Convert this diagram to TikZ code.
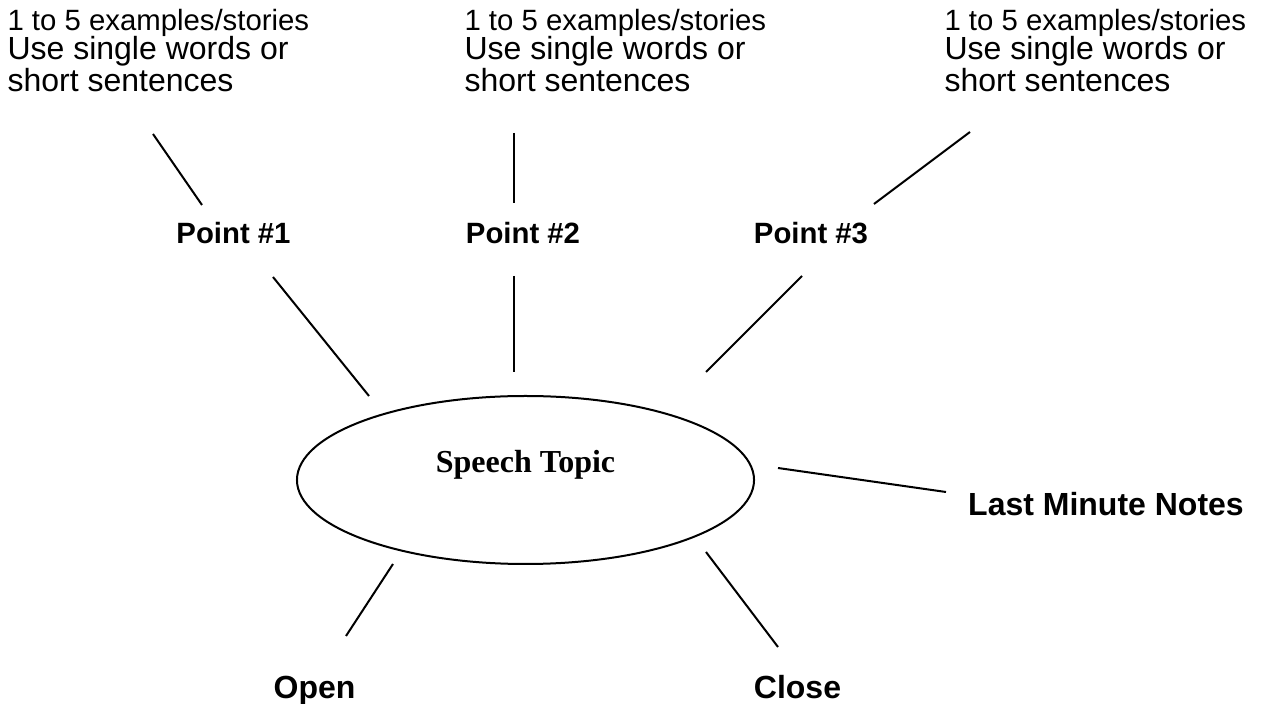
\documentclass[tikz,border=0pt]{standalone}
\usepackage{fontspec}
\setmainfont{Liberation Sans}
\newfontfamily\topicfont{Liberation Serif}
\usetikzlibrary{shapes.geometric, positioning}

\begin{document}
\begin{tikzpicture}[
    x=0.375pt, y=-0.375pt,
    topic/.style={ellipse, draw=black, line width=0.75pt, minimum width=171.4pt, minimum height=63pt, text height=8pt, text depth=13.25pt, font=\topicfont\bfseries\fontsize{12}{14}\selectfont},
    notes/.style={align=left, inner sep=0pt, anchor=base west, font=\fontsize{12}{11}\selectfont},
    point/.style={inner sep=0pt, anchor=base, font=\bfseries\fontsize{11}{13}\selectfont},
    part/.style={inner sep=0pt, anchor=base, font=\bfseries\fontsize{12}{14}\selectfont},
    spoke/.style={line width=0.75pt}
]
\useasboundingbox (0,0) rectangle (1261,704);

% --- Centre ---
\node (topic) [topic] at (525.5,480) {Speech Topic};

% --- Top row: examples (base = last line) ---
\node (notes1) [notes] at (7,92) {{\fontsize{11}{11}\selectfont 1 to 5 examples/stories}\\Use single words or\\short sentences};
\node (notes2) [notes] at (464,92) {{\fontsize{11}{11}\selectfont 1 to 5 examples/stories}\\Use single words or\\short sentences};
\node (notes3) [notes] at (944,92) {{\fontsize{11}{11}\selectfont 1 to 5 examples/stories}\\Use single words or\\short sentences};

% --- Middle row: points ---
\node (pt1) [point] at (233.5,244) {Point \#1};
\node (pt2) [point] at (523,244) {Point \#2};
\node (pt3) [point] at (811,244) {Point \#3};

% --- Around the topic ---
\node (lastnotes) [part] at (1106,516) {Last Minute Notes};
\node (open) [part] at (314.5,699) {Open};
\node (close) [part] at (797.5,699) {Close};

% --- Spoke ends (lines stop short of the text) ---
\coordinate (pt1_up) at (153,134);   \coordinate (pt1_top) at (202,205);
\coordinate (pt2_up) at (514,133);   \coordinate (pt2_top) at (514,203);
\coordinate (pt3_up) at (970,132);   \coordinate (pt3_top) at (874,204);
\coordinate (pt1_bot) at (273,277);  \coordinate (topic_pt1) at (369,396);
\coordinate (pt2_bot) at (514,276);  \coordinate (topic_pt2) at (514,372);
\coordinate (pt3_bot) at (802,276);  \coordinate (topic_pt3) at (706,372);
\coordinate (topic_last) at (778,468); \coordinate (last_end) at (946,492);
\coordinate (topic_open) at (393,564); \coordinate (open_end) at (346,636);
\coordinate (topic_close) at (706,552); \coordinate (close_end) at (778,647);

% --- Spokes ---
\draw [spoke] (pt1_up) -- (pt1_top);
\draw [spoke] (pt2_up) -- (pt2_top);
\draw [spoke] (pt3_up) -- (pt3_top);
\draw [spoke] (pt1_bot) -- (topic_pt1);
\draw [spoke] (pt2_bot) -- (topic_pt2);
\draw [spoke] (pt3_bot) -- (topic_pt3);
\draw [spoke] (topic_last) -- (last_end);
\draw [spoke] (topic_open) -- (open_end);
\draw [spoke] (topic_close) -- (close_end);

\end{tikzpicture}
\end{document}
